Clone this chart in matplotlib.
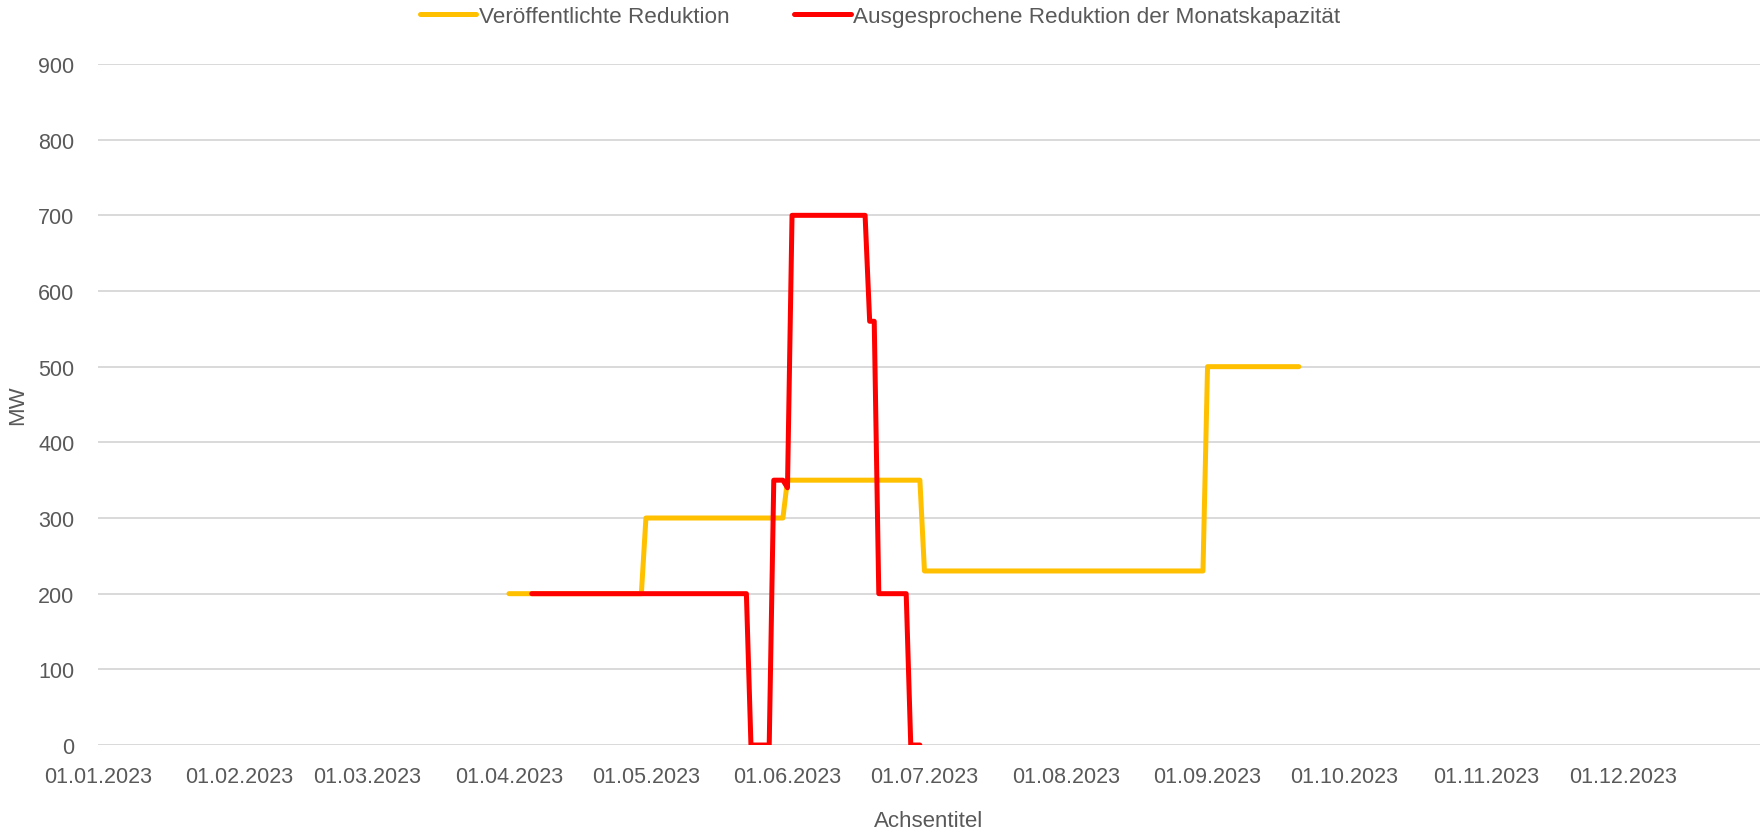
import matplotlib
matplotlib.use('Agg')
import matplotlib.pyplot as plt
import matplotlib.dates as mdates
from datetime import datetime

plt.rcParams['font.family'] = ['Liberation Sans', 'DejaVu Sans']

# Eckpunkte der Tageswerte (MW)
gelb_datum = ['2023-04-01', '2023-04-30', '2023-05-01', '2023-05-31', '2023-06-01',
              '2023-06-30', '2023-07-01', '2023-08-31', '2023-09-01', '2023-09-21']
gelb_wert = [200, 200, 300, 300, 350, 350, 230, 230, 500, 500]

rot_datum = ['2023-04-06', '2023-05-23', '2023-05-24', '2023-05-28', '2023-05-29',
             '2023-05-31', '2023-06-01', '2023-06-02', '2023-06-18', '2023-06-19',
             '2023-06-20', '2023-06-21', '2023-06-27', '2023-06-28', '2023-06-30']
rot_wert = [200, 200, 0, 0, 350, 350, 340, 700, 700, 560, 560, 200, 200, 0, 0]

y_ticks = [0, 100, 200, 300, 400, 500, 600, 700, 800, 900]

grau = '#595959'


def to_dt(liste):
    return [datetime.strptime(d, '%Y-%m-%d') for d in liste]


fig = plt.figure(figsize=(17.6, 8.29), dpi=100)
ax = fig.add_axes([0.0557, 0.1001, 0.9443, 0.8215])

ax.plot(to_dt(gelb_datum), gelb_wert, color='#FFC000', lw=3.6,
        solid_capstyle='round', solid_joinstyle='round', label='Veröffentlichte Reduktion', zorder=3)
ax.plot(to_dt(rot_datum), rot_wert, color='#FF0000', lw=3.6,
        solid_capstyle='round', solid_joinstyle='round',
        label='Ausgesprochene Reduktion der Monatskapazität', zorder=4)

ax.set_xlim(datetime(2023, 1, 1), datetime(2023, 12, 31))
ax.set_ylim(0, 900)
ax.set_yticks(y_ticks)
ax.xaxis.set_major_locator(mdates.MonthLocator())
ax.xaxis.set_major_formatter(mdates.DateFormatter('%d.%m.%Y'))

ax.grid(axis='y', color='#D9D9D9', lw=1.4, zorder=0)
ax.set_axisbelow(True)
for s in ax.spines.values():
    s.set_visible(False)

ax.tick_params(axis='y', length=0, pad=17, labelsize=15.5, labelcolor=grau)
ax.tick_params(axis='x', length=0, pad=15, labelsize=15.5, labelcolor=grau)

ax.set_xlabel('Achsentitel', fontsize=16, color=grau, labelpad=17)
ax.set_ylabel('MW', fontsize=16, color=grau, labelpad=7)

fig.legend(loc='center', bbox_to_anchor=(0.5, 0.979), ncol=2, frameon=False,
           fontsize=16.2, labelcolor=grau, handlelength=2.5, handletextpad=0.1,
           columnspacing=2.9)

fig.savefig('out.png', dpi=100)
